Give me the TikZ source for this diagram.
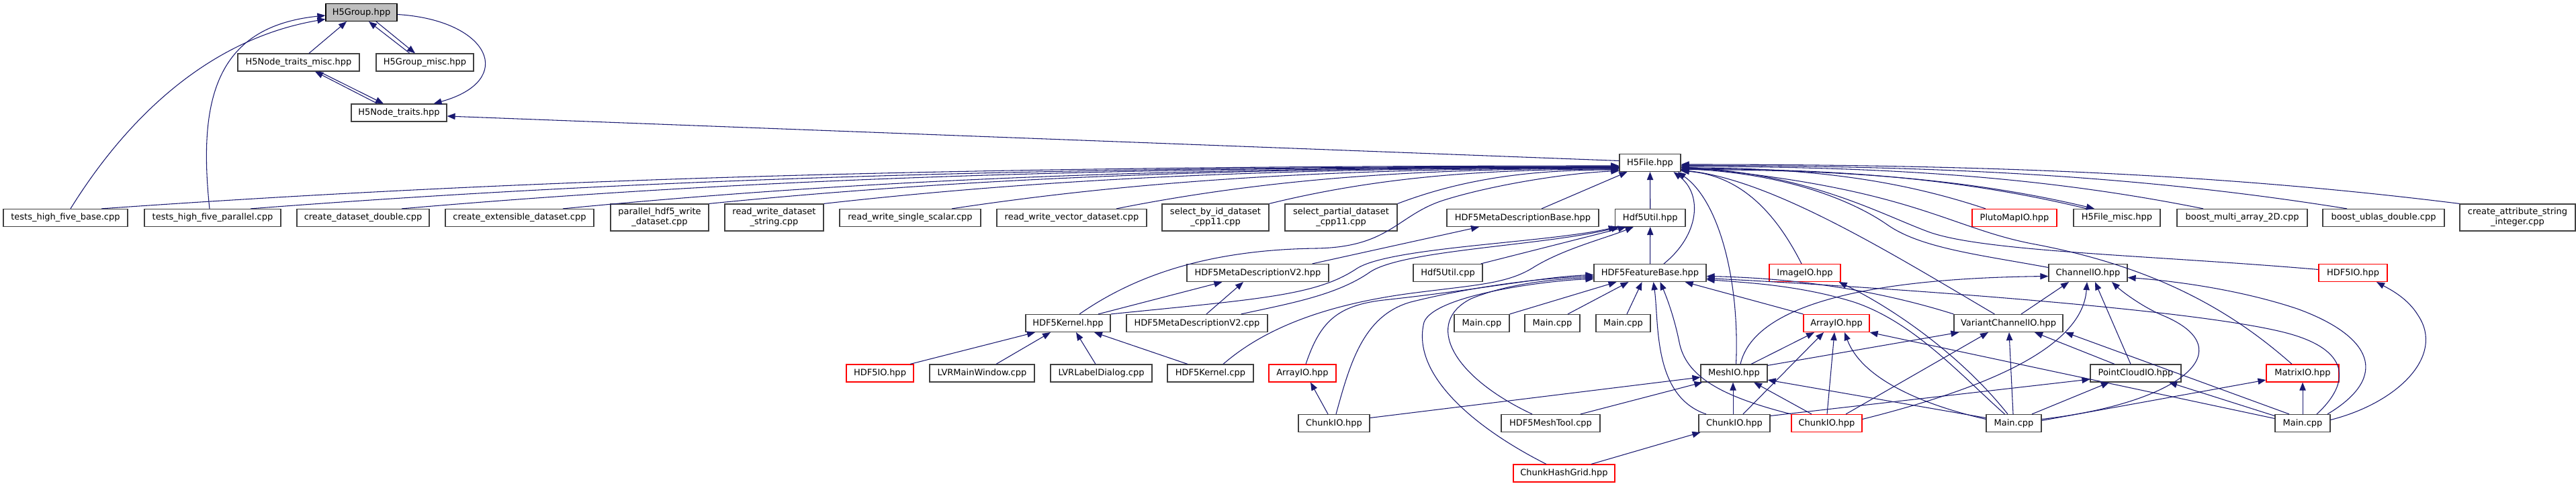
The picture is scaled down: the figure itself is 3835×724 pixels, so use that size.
\documentclass[tikz,border=0pt]{standalone}
\usepackage{fontspec}
\usetikzlibrary{arrows.meta,calc}
\newfontfamily\dvs{DejaVu Sans}
\definecolor{edgec}{RGB}{25,25,112}
\definecolor{nodeb}{RGB}{64,64,64}
\definecolor{redb}{RGB}{255,0,0}
\definecolor{grayf}{RGB}{191,191,191}
\begin{document}
\begin{tikzpicture}[x=0.75pt,y=-0.75pt,
  bw/.style={minimum width=#1*0.75pt},
  nb/.style={draw=nodeb, line width=0.9pt, fill=white, inner sep=0pt, minimum height=19.5pt,
    font=\dvs\fontsize{9.75}{11.25}\selectfont, text=black, align=center},
  rb/.style={nb, draw=redb},
  tall/.style={minimum height=30pt},
  e/.style={draw=edgec, line width=0.8pt, -{Triangle[length=9pt,width=7pt]}}]
\useasboundingbox (0,0) rectangle (3835,724);
% ---------- nodes ----------
\node[nb,fill=grayf,draw=black,bw=106] (h5group) at (538,18.5) {H5Group.hpp};
\node[nb,bw=181] (ntm) at (444.5,93) {H5Node\_traits\_misc.hpp};
\node[nb,bw=145] (gmisc) at (632.5,93) {H5Group\_misc.hpp};
\node[nb,bw=142] (nt) at (594,168) {H5Node\_traits.hpp};
\node[nb,bw=91] (h5file) at (2456.5,242.5) {H5File.hpp};
% row 4
\node[nb,bw=185] (thb) at (97.5,324.5) {tests\_high\_five\_base.cpp};
\node[nb,bw=203] (thp) at (316.5,324.5) {tests\_high\_five\_parallel.cpp};
\node[nb,bw=197] (cdd) at (540.5,324.5) {create\_dataset\_double.cpp};
\node[nb,bw=221] (ced) at (773.5,324.5) {create\_extensible\_dataset.cpp};
\node[nb,tall,bw=146] (phw) at (982,324) {parallel\_hdf5\_write\\\_dataset.cpp};
\node[nb,tall,bw=147] (rwds) at (1152.5,324) {read\_write\_dataset\\\_string.cpp};
\node[nb,bw=210] (rwss) at (1355,324.5) {read\_write\_single\_scalar.cpp};
\node[nb,bw=223] (rwvd) at (1595.5,324.5) {read\_write\_vector\_dataset.cpp};
\node[nb,tall,bw=159] (sbid) at (1809.5,324) {select\_by\_id\_dataset\\\_cpp11.cpp};
\node[nb,tall,bw=167] (spd) at (1996.5,324) {select\_partial\_dataset\\\_cpp11.cpp};
\node[nb,bw=226] (mdb) at (2267,324.5) {HDF5MetaDescriptionBase.hpp};
\node[nb,bw=104.5] (h5u) at (2456.75,324.5) {Hdf5Util.hpp};
\node[rb,bw=126] (pluto) at (2999,324.5) {PlutoMapIO.hpp};
\node[nb,bw=129] (fmisc) at (3151.5,324.5) {H5File\_misc.hpp};
\node[nb,bw=194] (bma) at (3338,324.5) {boost\_multi\_array\_2D.cpp};
\node[nb,bw=181] (bud) at (3548.5,324.5) {boost\_ublas\_double.cpp};
\node[nb,tall,bw=172] (cas) at (3748,324) {create\_attribute\_string\\\_integer.cpp};
% row 5
\node[nb,bw=211] (v2h) at (1872.5,406.5) {HDF5MetaDescriptionV2.hpp};
\node[nb,bw=103] (h5ucpp) at (2155.5,406.5) {Hdf5Util.cpp};
\node[nb,bw=167] (fb) at (2456.5,406.5) {HDF5FeatureBase.hpp};
\node[rb,bw=106] (imageio) at (2687,406.5) {ImageIO.hpp};
\node[nb,bw=117] (chio) at (3108.5,406.5) {ChannelIO.hpp};
\node[rb,bw=102] (hdf5ior) at (3503,406.5) {HDF5IO.hpp};
% row 6
\node[nb,bw=126] (kh) at (1590,481.5) {HDF5Kernel.hpp};
\node[nb,bw=210] (v2c) at (1782,481.5) {HDF5MetaDescriptionV2.cpp};
\node[nb,bw=82] (maina) at (2206,481.5) {Main.cpp};
\node[nb,bw=82] (mainb) at (2311,481.5) {Main.cpp};
\node[nb,bw=81] (mainc) at (2416.5,481.5) {Main.cpp};
\node[rb,bw=98] (arr2) at (2734,481.5) {ArrayIO.hpp};
\node[nb,bw=162] (vch) at (2990,481.5) {VariantChannelIO.hpp};
% row 7
\node[rb,bw=100] (hdf5iol) at (1310,556) {HDF5IO.hpp};
\node[nb,bw=156] (lvrmw) at (1462,556) {LVRMainWindow.cpp};
\node[nb,bw=151] (lvrld) at (1639.5,556) {LVRLabelDialog.cpp};
\node[nb,bw=128] (kcpp) at (1802,556) {HDF5Kernel.cpp};
\node[rb,bw=100] (arr1) at (1939,556) {ArrayIO.hpp};
\node[nb,bw=99] (mesh) at (2581.5,556) {MeshIO.hpp};
\node[nb,bw=135] (pc) at (3179.5,556) {PointCloudIO.hpp};
\node[rb,bw=108] (matrix) at (3428,556) {MatrixIO.hpp};
% row 8
\node[nb,bw=106] (chunk1) at (1986,630.5) {ChunkIO.hpp};
\node[nb,bw=147] (meshtool) at (2308.5,630.5) {HDF5MeshTool.cpp};
\node[nb,bw=106] (chunk2) at (2582,630.5) {ChunkIO.hpp};
\node[rb,bw=105] (chunk3) at (2719.5,630.5) {ChunkIO.hpp};
\node[nb,bw=82] (mainm) at (2998,630.5) {Main.cpp};
\node[nb,bw=82] (mainr) at (3428,630.5) {Main.cpp};
% row 9
\node[rb,bw=151] (chg) at (2328.5,705) {ChunkHashGrid.hpp};
% ---------- edges ----------
% top cluster
\draw[e] ($(ntm.north)+(15.5,0)$) -- ($(h5group.south)+(-22,0)$);
\draw[e] ($(gmisc.north)+(-22.5,0)$) -- ($(h5group.south)+(11,0)$);
\draw[e] ($(h5group.south)+(22,0)$) -- ($(gmisc.north)+(-14.5,0)$);
\draw[e] ($(nt.north)+(-32,0)$) -- ($(ntm.south)+(24.5,0)$);
\draw[e] ($(ntm.south)+(30.5,0)$) -- ($(nt.north)+(-23,0)$);
\draw[e] ($(h5group.east)+(0,3)$) .. controls (730,30) and (770,120) .. ($(nt.north east)+(-20,0)$);
\draw[e] ($(thb.north)+(7.5,0)$) .. controls (180,190) and (300,60) .. ($(h5group.west)+(0,10)$);
\draw[e] ($(thp.north)+(-4.5,0)$) .. controls (295,150) and (320,40) .. ($(h5group.west)+(0,4.5)$);
\draw[e] ($(h5file.west)+(0,-3)$) -- ($(nt.east)+(0,5)$);
% left bundle into H5File
\draw[e] ($(thb.north)+(53.5,0)$) .. controls (829,263) and (1507,247) .. ($(h5file.west)+(0,4.5)$);
\draw[e] ($(thp.north)+(56.5,0)$) .. controls (984,264) and (1596,248) .. ($(h5file.west)+(0,5.5)$);
\draw[e] ($(cdd.north)+(57.5,0)$) .. controls (1142,264) and (1686,248.5) .. ($(h5file.west)+(0,6)$);
\draw[e] ($(ced.north)+(64.5,0)$) .. controls (1310,265) and (1782,249) .. ($(h5file.west)+(0,6.5)$);
\draw[e] (phw.north east) .. controls (1462,263) and (1869,249.5) .. ($(h5file.west)+(0,7)$);
\draw[e] (rwds.north east) .. controls (1582,263.5) and (1937,250) .. ($(h5file.west)+(0,7.5)$);
\draw[e] ($(rwss.north)+(62,0)$) .. controls (1715,266) and (2013,250.5) .. ($(h5file.west)+(0,8)$);
\draw[e] ($(rwvd.north)+(66.5,0)$) .. controls (1887,266) and (2111,251) .. ($(h5file.west)+(0,8.5)$);
\draw[e] (sbid.north east) .. controls (2046,265) and (2202,252) .. ($(h5file.west)+(0,9.5)$);
\draw[e] (spd.north east) .. controls (2179,266) and (2279,253) .. ($(h5file.west)+(0,10.5)$);
% right bundle into H5File
\draw[e] ($(pluto.north)+(-43,0)$) .. controls (2820,265.5) and (2684,250) .. ($(h5file.east)+(0,7.5)$);
\draw[e] ($(fmisc.north)+(-44.5,0)$) .. controls (2925,267) and (2744,251.5) .. ($(h5file.east)+(0,9)$);
\draw[e] ($(h5file.east)+(0,10)$) .. controls (2747,252.5) and (2934,267) .. ($(fmisc.north)+(-33.5,0)$);
\draw[e] ($(bma.north)+(-58,0)$) .. controls (3047,264) and (2813,248) .. ($(h5file.east)+(0,5.5)$);
\draw[e] ($(bud.north)+(-54.5,0)$) .. controls (3196,263) and (2899,246.5) .. ($(h5file.east)+(0,4)$);
\draw[e] (cas.north west) .. controls (3314,260) and (2966,245) .. ($(h5file.east)+(0,2.5)$);
% lower includers of H5File
\draw[e] ($(mdb.north)+(28,0)$) -- ($(h5file.south)+(-34,0)$);
\draw[e] (h5u.north) -- (h5file.south);
\draw[e] ($(kh.north)+(17,0)$) .. controls (1690,410) and (1800,372) .. (1960,370) .. controls (2070,368) and (2080,320) .. (2150,298) .. controls (2220,276) and (2330,258) .. ($(h5file.west)+(0,12)$);
\draw[e] ($(fb.north)+(20.5,0)$) .. controls (2530,350) and (2535,290) .. ($(h5file.south)+(35,0)$);
\draw[e] ($(mesh.north)+(3,0)$) .. controls (2590,420) and (2560,300) .. ($(h5file.south east)+(-5,0)$);
\draw[e] ($(imageio.north)+(-5,0)$) .. controls (2650,330) and (2600,262) .. ($(h5file.east)+(0,12)$);
\draw[e] ($(vch.north west)+(61,0)$) .. controls (2820,380) and (2640,268) .. ($(h5file.east)+(0,11)$);
\draw[e] ($(chio.west)+(0,-8)$) .. controls (2950,380) and (2860,370) .. (2810,335) .. controls (2760,300) and (2660,258) .. ($(h5file.east)+(0,9)$);
\draw[e] ($(hdf5ior.west)+(0,-5)$) .. controls (3200,380) and (2950,375) .. (2870,345) .. controls (2800,319) and (2690,258) .. ($(h5file.east)+(0,7)$);
\draw[e] ($(matrix.north)+(-16,0)$) .. controls (3330,470) and (3220,400) .. (3030,364) .. controls (2900,340) and (2850,280) .. ($(h5file.east)+(0,6)$);
% Hdf5Util
\draw[e] (fb.north) -- (h5u.south);
\draw[e] (kh.north east) .. controls (1880,445) and (1960,440) .. (2020,400) .. controls (2070,368) and (2300,362) .. ($(h5u.south)+(-50,0)$);
\draw[e] ($(v2c.north east)+(-40,0)$) .. controls (1920,452) and (1990,440) .. (2040,405) .. controls (2090,372) and (2300,366) .. ($(h5u.south)+(-46,0)$);
\draw[e] ($(h5ucpp.north east)+(-3,0)$) -- ($(h5u.south)+(-36,0)$);
\draw[e] ($(kcpp.north)+(19,0)$) .. controls (1870,500) and (1950,457) .. (2100,437) .. controls (2200,424) and (2245,423) .. (2285,397) .. controls (2330,370) and (2390,355) .. ($(h5u.south)+(-25,0)$);
% meta description
\draw[e] ($(v2h.north east)+(-25,0)$) -- ($(mdb.south)+(-65,0)$);
\draw[e] ($(kh.north)+(45,0)$) -- ($(v2h.south)+(-53,0)$);
\draw[e] ($(v2c.north)+(14,0)$) -- ($(v2h.south)+(-21.5,0)$);
% kernel
\draw[e] ($(hdf5iol.north)+(45,0)$) -- ($(kh.south)+(-49,0)$);
\draw[e] ($(lvrmw.north)+(21,0)$) -- ($(kh.south)+(-26,0)$);
\draw[e] ($(lvrld.north)+(-8.5,0)$) -- ($(kh.south)+(12,0)$);
\draw[e] ($(kcpp.north)+(-34,0)$) -- ($(kh.south)+(39,0)$);
% feature base
\draw[e] (maina.north east) -- ($(fb.south)+(-50,0)$);
\draw[e] ($(mainb.north)+(23,0)$) -- ($(fb.south)+(-32,0)$);
\draw[e] ($(mainc.north)+(5.5,0)$) -- ($(fb.south)+(-12,0)$);
\draw[e] ($(arr1.north)+(5,0)$) .. controls (1965,480) and (1990,455) .. (2060,447) .. controls (2200,432) and (2300,412) .. ($(fb.west)+(0,3)$);
\draw[e] ($(chunk1.north)+(3,0)$) .. controls (2010,540) and (2030,470) .. (2100,450) .. controls (2200,425) and (2300,414) .. ($(fb.west)+(0,5)$);
\draw[e] ($(meshtool.north)+(-27.5,0)$) .. controls (2160,560) and (2120,480) .. (2190,445) .. controls (2250,420) and (2330,415) .. ($(fb.west)+(0,7)$);
\draw[e] ($(chg.north)+(-26.5,0)$) .. controls (2200,640) and (2100,560) .. (2120,480) .. controls (2135,440) and (2300,418) .. ($(fb.west)+(0,9)$);
\draw[e] ($(chunk2.north)+(-42,0)$) .. controls (2460,590) and (2470,480) .. ($(fb.south)+(5,0)$);
\draw[e] (chunk3.north west) .. controls (2560,590) and (2510,560) .. (2500,510) .. controls (2492,470) and (2480,440) .. ($(fb.south)+(15,0)$);
\draw[e] (arr2.north west) -- ($(fb.south east)+(-32,0)$);
\draw[e] (vch.north west) .. controls (2820,440) and (2700,415) .. ($(fb.east)+(0,5)$);
\draw[e] ($(mainm.north)+(-13.5,0)$) .. controls (2920,560) and (2850,480) .. (2760,450) .. controls (2680,425) and (2600,421) .. ($(fb.east)+(0,10)$);
\draw[e] ($(mainr.north)+(21,0)$) .. controls (3500,570) and (3500,520) .. (3400,495) .. controls (3250,457.5) and (2750,425) .. ($(fb.east)+(0,8)$);
% image io
\draw[e] ($(mainm.north)+(-9,0)$) .. controls (2920,530) and (2820,460) .. ($(imageio.south east)+(-3,0)$);
% mesh io
\draw[e] ($(chunk2.north)+(-2,0)$) -- ($(mesh.south)+(-1.5,0)$);
\draw[e] ($(chunk3.north)+(-22.5,0)$) -- ($(mesh.south)+(29.5,0)$);
\draw[e] ($(mainm.west)+(0,-8)$) -- ($(mesh.east)+(0,10)$);
\draw[e] ($(chunk1.east)+(0,-8)$) -- ($(mesh.west)+(0,6)$);
\draw[e] ($(meshtool.north)+(44.5,0)$) -- ($(mesh.south west)+(3,0)$);
% array io (right)
\draw[e] ($(mesh.north)+(25.5,0)$) -- ($(arr2.south)+(-33,0)$);
\draw[e] ($(chunk2.north)+(13,0)$) -- ($(arr2.south)+(-19,0)$);
\draw[e] ($(chunk3.north)+(0.5,0)$) -- ($(arr2.south)+(-3,0)$);
\draw[e] ($(mainm.west)+(0,-6)$) .. controls (2850,600) and (2770,560) .. ($(arr2.south)+(12,0)$);
\draw[e] ($(mainr.west)+(0,-7)$) -- (arr2.south east);
% variant channel io
\draw[e] ($(mesh.north east)+(0,2)$) -- ($(vch.south west)+(8,0)$);
\draw[e] ($(chunk3.north)+(28.5,0)$) -- ($(vch.south)+(-30,0)$);
\draw[e] ($(mainm.north)+(-1,0)$) -- ($(vch.south)+(1,0)$);
\draw[e] ($(pc.north)+(-31.5,0)$) -- ($(vch.south)+(39,0)$);
\draw[e] ($(mainr.north)+(-20,0)$) -- ($(vch.south east)+(3,0)$);
% channel io
\draw[e] ($(vch.north)+(19,0)$) -- ($(chio.south)+(-28.5,0)$);
\draw[e] ($(mesh.north)+(9.5,0)$) .. controls (2610,460) and (2760,415) .. ($(chio.west)+(0,5)$);
\draw[e] ($(chunk3.east)+(0,-6)$) .. controls (2950,580) and (3100,520) .. ($(chio.south)+(-1.5,0)$);
\draw[e] ($(pc.north)+(-7.5,0)$) -- ($(chio.south)+(10.5,0)$);
\draw[e] ($(mainm.east)+(0,-6)$) .. controls (3250,600) and (3340,520) .. (3220,470) .. controls (3190,457.5) and (3160,435) .. ($(chio.south)+(35.5,0)$);
\draw[e] ($(mainr.north)+(37,0)$) .. controls (3560,560) and (3530,500) .. (3420,460) .. controls (3330,430) and (3230,418) .. ($(chio.east)+(0,7)$);
% point cloud io
\draw[e] ($(chunk2.east)+(0,-11)$) -- ($(pc.west)+(0,9)$);
\draw[e] ($(mainm.north)+(27,0)$) -- ($(pc.south)+(-39.5,0)$);
\draw[e] ($(mainr.west)+(0,-11)$) -- ($(pc.south)+(49.5,0)$);
% matrix io
\draw[e] ($(mainm.east)+(0,-4)$) -- ($(matrix.west)+(0,10)$);
\draw[e] (mainr.north) -- (matrix.south);
% hdf5io right
\draw[e] ($(mainr.east)+(0,-5)$) .. controls (3570,600) and (3640,530) .. (3600,470) .. controls (3585,445) and (3560,432) .. ($(hdf5ior.south)+(35,0)$);
% chunk io & array io (left)
\draw[e] ($(chg.north)+(40.5,0)$) -- ($(chunk2.south west)+(3,0)$);
\draw[e] ($(chunk1.north)+(-9,0)$) -- ($(arr1.south)+(12,0)$);
\end{tikzpicture}
\end{document}
